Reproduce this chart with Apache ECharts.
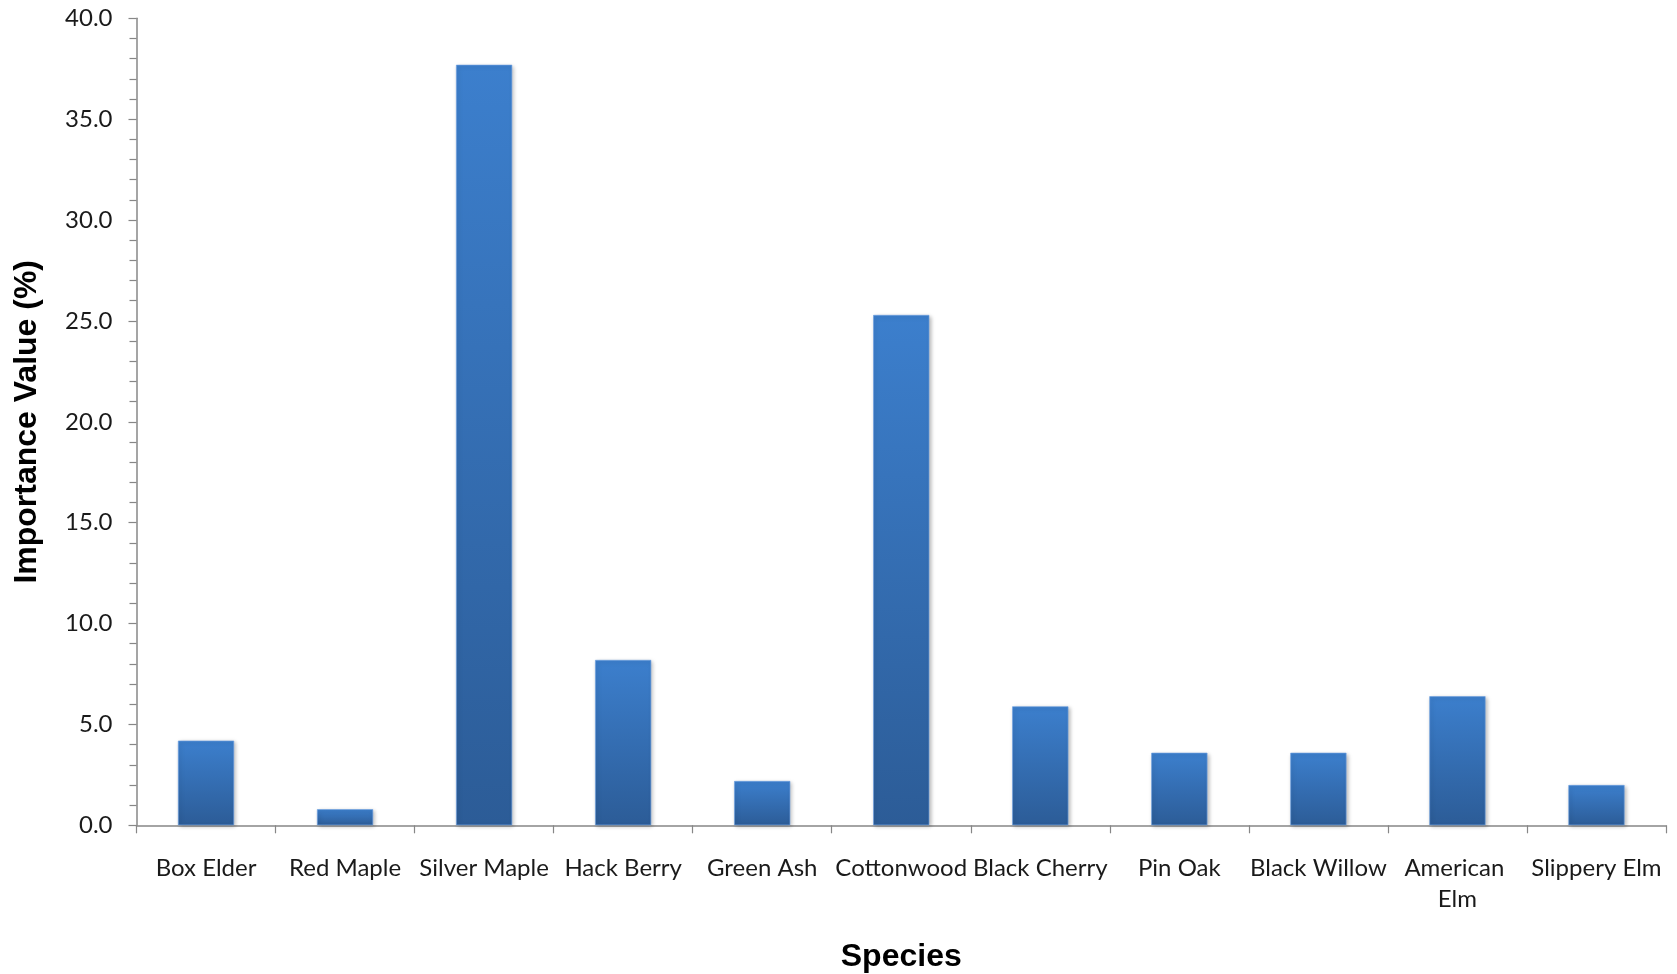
<!DOCTYPE html>
<html>
<head>
<meta charset="utf-8">
<script src="https://cdn.jsdelivr.net/npm/echarts@6/dist/echarts.min.js"></script>
<style>
html,body{margin:0;padding:0;background:#fff;}
#chart{width:1677px;height:974px;}
</style>
</head>
<body>
<div id="chart"></div>
<script>
const categories = ["Box Elder","Red Maple","Silver Maple","Hack Berry","Green Ash","Cottonwood","Black Cherry","Pin Oak","Black Willow","American Elm","Slippery Elm"];
const importanceValues = [4.2, 0.8, 37.7, 8.2, 2.2, 25.3, 5.9, 3.6, 3.6, 6.4, 2.0];
const xAxisTitle = "Species";
const yAxisTitle = "Importance Value (%)";

const chart = echarts.init(document.getElementById('chart'), null, {renderer:'canvas'});
const axisGray = '#878787';
const labelFont = 'Lato';
chart.setOption({
  animation: false,
  grid: {left: 136.5, right: 11, top: 18.3, bottom: 148.7, containLabel: false, outerBoundsMode: 'none'},
  xAxis: {
    type: 'category',
    data: categories,
    name: xAxisTitle,
    nameLocation: 'middle',
    nameGap: 116,
    nameTextStyle: {fontFamily: 'Liberation Sans', fontWeight: 'bold', fontSize: 32, color: '#000'},
    axisLine: {lineStyle: {color: axisGray, width: 1.5}},
    axisTick: {show: true, alignWithLabel: false, length: 8, lineStyle: {color: axisGray, width: 1.2}},
    axisLabel: {
      interval: 0, margin: 27, fontFamily: labelFont, fontSize: 24, color: '#1a1a1a',
      width: 138, overflow: 'break', lineHeight: 31
    },
    splitLine: {show: false}
  },
  yAxis: {
    type: 'value',
    min: 0, max: 40, interval: 5,
    name: yAxisTitle,
    nameLocation: 'middle',
    nameGap: 93,
    nameRotate: 90,
    nameTextStyle: {fontFamily: 'Liberation Sans', fontWeight: 'bold', fontSize: 32, color: '#000'},
    axisLine: {show: true, lineStyle: {color: axisGray, width: 1.5}},
    axisTick: {show: true, length: 8, lineStyle: {color: axisGray, width: 1.2}},
    minorTick: {show: true, splitNumber: 5, length: 7, lineStyle: {color: axisGray, width: 1.2}},
    axisLabel: {margin: 24, fontFamily: labelFont, fontSize: 24, color: '#1a1a1a', formatter: v => v.toFixed(1)},
    splitLine: {show: false}
  },
  series: [{
    type: 'bar',
    data: importanceValues,
    barWidth: '40.5%',
    itemStyle: {
      color: new echarts.graphic.LinearGradient(0, 0, 0, 1, [
        {offset: 0, color: '#3c7fcd'},
        {offset: 1, color: '#2c5c97'}
      ]),
      borderColor: 'rgba(110,160,225,0.8)',
      borderWidth: 0.8,
      shadowColor: 'rgba(0,0,0,0.28)',
      shadowBlur: 4,
      shadowOffsetX: 1.5,
      shadowOffsetY: 1.5
    }
  }]
});
</script>
</body>
</html>
